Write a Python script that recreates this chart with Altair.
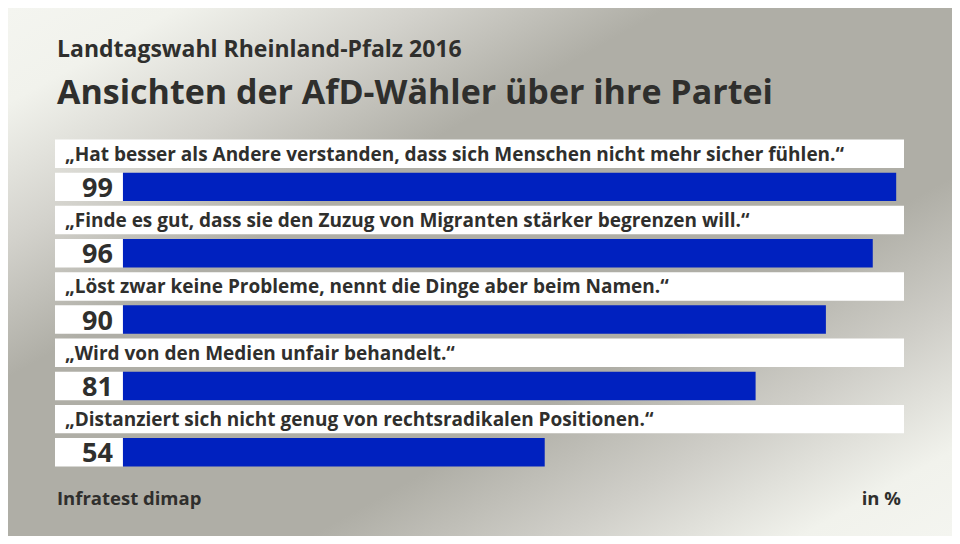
import altair as alt
import pandas as pd

# ---- data ----
statements = [
    "„Hat besser als Andere verstanden, dass sich Menschen nicht mehr sicher fühlen.“",
    "„Finde es gut, dass sie den Zuzug von Migranten stärker begrenzen will.“",
    "„Löst zwar keine Probleme, nennt die Dinge aber beim Namen.“",
    "„Wird von den Medien unfair behandelt.“",
    "„Distanziert sich nicht genug von rechtsradikalen Positionen.“",
]
values = [99, 96, 90, 81, 54]
subtitle = "Landtagswahl Rheinland-Pfalz 2016"
title = "Ansichten der AfD-Wähler über ihre Partei"
source = "Infratest dimap"
unit = "in %"

FONT = "Open Sans"
TEXT = "#2f2f2d"
BLUE = "#0021bf"
W, H = 944, 528
BOX_START = -8.7

slots = []
for i in range(len(statements)):
    slots += [f"{i}a", f"{i}b"]

label_df = pd.DataFrame({
    "slot": [f"{i}a" for i in range(len(statements))],
    "text": statements,
    "start": [BOX_START] * len(statements),
    "end": [100] * len(statements),
})
bar_df = pd.DataFrame({
    "slot": [f"{i}b" for i in range(len(values))],
    "value": values,
    "zero": [0] * len(values),
    "start": [BOX_START] * len(values),
    "label": [str(v) for v in values],
})

xs = alt.Scale(domain=[BOX_START, 100], range=[47, 896], nice=False, zero=False)
ys = alt.Scale(domain=slots, range=[131.5, 458.5], paddingInner=0.143, paddingOuter=0)
X = lambda f: alt.X(f, scale=xs, axis=None)
Y = alt.Y("slot:N", scale=ys, axis=None, sort=slots)

one = pd.DataFrame({"k": [0]})

bg = alt.Chart(one).mark_rect(
    color=alt.LinearGradient(
        gradient="linear",
        x1=0, y1=0, x2=1, y2=1,
        stops=[
            alt.GradientStop(color="#f4f5f0", offset=0),
            alt.GradientStop(color="#f1f2ec", offset=0.09),
            alt.GradientStop(color="#d3d2cc", offset=0.22),
            alt.GradientStop(color="#afaea6", offset=0.35),
            alt.GradientStop(color="#afaea6", offset=0.66),
            alt.GradientStop(color="#cfcec8", offset=0.79),
            alt.GradientStop(color="#f1f2ec", offset=0.92),
            alt.GradientStop(color="#f4f5f0", offset=1),
        ],
    )
).encode(x=alt.value(0), x2=alt.value(W), y=alt.value(0), y2=alt.value(H))

label_band = alt.Chart(label_df).mark_bar(color="white").encode(
    x=X("start:Q"), x2="end:Q", y=Y
)
label_text = alt.Chart(label_df).mark_text(
    align="left", baseline="middle", font=FONT, fontWeight="bold", fontSize=19, color=TEXT, dy=1
).encode(x=alt.value(57), y=Y, text="text:N")

num_box = alt.Chart(bar_df).mark_bar(color="white").encode(
    x=X("start:Q"), x2="zero:Q", y=Y
)
bars = alt.Chart(bar_df).mark_bar(color=BLUE).encode(
    x=X("zero:Q"), x2="value:Q", y=Y
)
num_text = alt.Chart(bar_df).mark_text(
    align="right", baseline="middle", font=FONT, fontWeight="bold", fontSize=27, color=TEXT, dx=-10, dy=2
).encode(x=alt.X("zero:Q", scale=xs, axis=None), y=Y, text="label:N")

def txt(s, x, y, size, align="left", weight="bold"):
    return alt.Chart(pd.DataFrame({"t": [s]})).mark_text(
        align=align, baseline="alphabetic", font=FONT, fontWeight=weight, fontSize=size, color=TEXT
    ).encode(x=alt.value(x), y=alt.value(y), text="t:N")

chart = alt.layer(
    bg, label_band, num_box, bars, label_text, num_text,
    txt(subtitle, 49, 49, 23),
    txt(title, 49, 96, 34),
    txt(source, 49, 497, 18.5),
    txt(unit, 893, 497, 18.5, align="right"),
).properties(
    width=W, height=H, padding=0, autosize=alt.AutoSizeParams(type="none"), background="#afaea6"
).configure_view(stroke=None)

chart.save("out.html", embed_options={"renderer": "svg", "actions": False})
